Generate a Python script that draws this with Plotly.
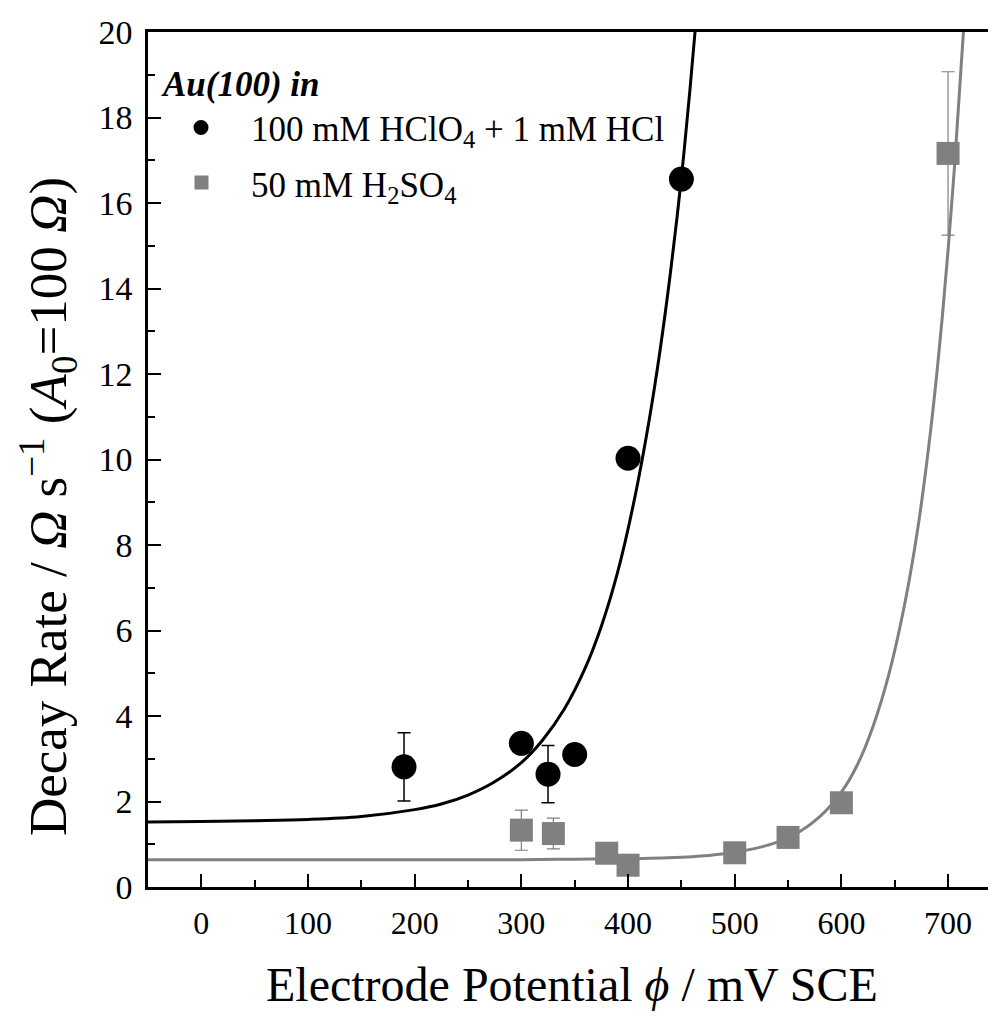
import plotly.graph_objects as go

# --- data ---
hcl_x = [190, 300, 325, 350, 400, 450]
hcl_y = [2.81, 3.36, 2.64, 3.10, 10.03, 16.56]
hcl_err = [0.80, 0, 0.67, 0, 0, 0]

h2so4_x = [300, 330, 380, 400, 500, 550, 600, 700]
h2so4_y = [1.33, 1.25, 0.79, 0.51, 0.80, 1.16, 1.97, 17.16]
h2so4_err = [0.47, 0.36, 0, 0, 0, 0, 0, 1.91]

# fitted curves
hcl_fit_x = [-50, 0, 50, 100, 150, 200, 225, 250, 275, 300, 320, 340, 360, 375,
             390, 405, 420, 430, 440, 450, 458, 463]
hcl_fit_y = [1.52, 1.53, 1.55, 1.58, 1.65, 1.81, 1.94, 2.15, 2.46, 2.91, 3.44, 4.15,
             5.13, 6.10, 7.34, 8.95, 10.95, 12.55, 14.42, 16.59, 18.64, 20.06]

h2so4_fit_x = [-50, 200, 300, 350, 400, 430, 460, 490, 515, 540, 560, 580, 600, 615,
               630, 645, 660, 672, 684, 695, 705, 712, 716]
h2so4_fit_y = [0.64, 0.64, 0.64, 0.65, 0.66, 0.68, 0.71, 0.78, 0.88, 1.05, 1.28, 1.65,
               2.22, 2.86, 3.78, 5.02, 6.70, 8.45, 10.75, 13.45, 16.5, 19.1, 20.6]

x_ticks = [0, 100, 200, 300, 400, 500, 600, 700]
y_ticks = [0, 2, 4, 6, 8, 10, 12, 14, 16, 18, 20]

BLACK = "#000000"
GRAY = "#808080"
FONT = "Liberation Serif"

fig = go.Figure()

fig.add_trace(go.Scatter(x=hcl_fit_x, y=hcl_fit_y, mode="lines",
                         line=dict(color=BLACK, width=3, shape="spline", smoothing=1),
                         showlegend=False, hoverinfo="skip"))
fig.add_trace(go.Scatter(x=h2so4_fit_x, y=h2so4_fit_y, mode="lines",
                         line=dict(color=GRAY, width=3, shape="spline", smoothing=1),
                         showlegend=False, hoverinfo="skip"))

fig.add_trace(go.Scatter(x=hcl_x, y=hcl_y, mode="markers",
                         marker=dict(symbol="circle", size=25, color=BLACK, line=dict(width=0)),
                         error_y=dict(type="data", array=hcl_err, visible=True,
                                      color=BLACK, thickness=1.5, width=6.5),
                         showlegend=False))
fig.add_trace(go.Scatter(x=h2so4_x, y=h2so4_y, mode="markers",
                         marker=dict(symbol="square", size=23, color=GRAY, line=dict(width=0)),
                         error_y=dict(type="data", array=h2so4_err, visible=True,
                                      color=GRAY, thickness=1.2, width=6.5),
                         showlegend=False))

OFF = 8  # page body margin
W, H = 996 - OFF, 1018 - OFF
L, T = 148 - OFF, 32 - OFF
R = W - (995 - OFF)
B = H - (887 - OFF)
pw, ph = W - L - R, H - T - B


def px(x):
    """page x pixel -> paper coordinate"""
    return (x - OFF - L) / pw


def py(y):
    """page y pixel -> paper coordinate"""
    return (H - B - (y - OFF)) / ph


# manual legend
fig.add_annotation(x=px(159), y=py(84), xref="paper", yref="paper", xanchor="left",
                   yanchor="middle", showarrow=False,
                   text="<b><i>Au(100) in</i></b>", font=dict(family=FONT, size=35, color=BLACK))
fig.add_shape(type="circle", xref="paper", yref="paper",
              x0=px(193.5), x1=px(208.5), y0=py(120), y1=py(135),
              fillcolor=BLACK, line=dict(width=0))
fig.add_shape(type="rect", xref="paper", yref="paper",
              x0=px(194.5), x1=px(208.5), y0=py(175.5), y1=py(189.5),
              fillcolor=GRAY, line=dict(width=0))
fig.add_annotation(x=px(249), y=py(131), xref="paper", yref="paper", xanchor="left",
                   yanchor="middle", showarrow=False,
                   text="100 mM HClO<sub>4</sub> + 1 mM HCl",
                   font=dict(family=FONT, size=35, color=BLACK))
fig.add_annotation(x=px(249), y=py(187), xref="paper", yref="paper", xanchor="left",
                   yanchor="middle", showarrow=False,
                   text="50 mM H<sub>2</sub>SO<sub>4</sub>",
                   font=dict(family=FONT, size=35, color=BLACK))

# axis titles
fig.add_annotation(x=px(572), y=py(984), xref="paper", yref="paper", xanchor="center",
                   yanchor="middle", showarrow=False,
                   text="Electrode Potential <i>ϕ</i> / mV SCE",
                   font=dict(family=FONT, size=48, color=BLACK))
fig.add_annotation(x=px(48), y=py(507), xref="paper", yref="paper", xanchor="center",
                   yanchor="middle", showarrow=False, textangle=-90,
                   text="Decay Rate / <i>Ω</i> s<sup>−1</sup> (<i>A</i><sub>0</sub>=100 <i>Ω</i>)",
                   font=dict(family=FONT, size=53, color=BLACK))

fig.update_xaxes(range=[-50, 744], tickvals=x_ticks, ticks="inside", ticklen=13, tickwidth=2,
                 tickcolor=BLACK, showline=True, linecolor=BLACK, linewidth=2.5, mirror=True,
                 showgrid=False, zeroline=False, ticklabelstandoff=6,
                 tickfont=dict(family=FONT, size=32, color=BLACK),
                 minor=dict(dtick=50, tick0=50, ticks="inside", ticklen=7, tickwidth=2,
                            tickcolor=BLACK, showgrid=False))
fig.update_yaxes(range=[0, 20], tickvals=y_ticks, ticks="inside", ticklen=13, tickwidth=2,
                 tickcolor=BLACK, showline=True, linecolor=BLACK, linewidth=2.5, mirror=False,
                 showgrid=False, zeroline=False, ticklabelstandoff=6,
                 tickfont=dict(family=FONT, size=34, color=BLACK),
                 minor=dict(dtick=1, tick0=1, ticks="inside", ticklen=7, tickwidth=2,
                            tickcolor=BLACK, showgrid=False))

fig.update_layout(width=W, height=H, margin=dict(l=L, r=R, t=T, b=B, autoexpand=False),
                  paper_bgcolor="white", plot_bgcolor="white", showlegend=False,
                  font=dict(family=FONT, color=BLACK))

fig.write_html("out.html")
